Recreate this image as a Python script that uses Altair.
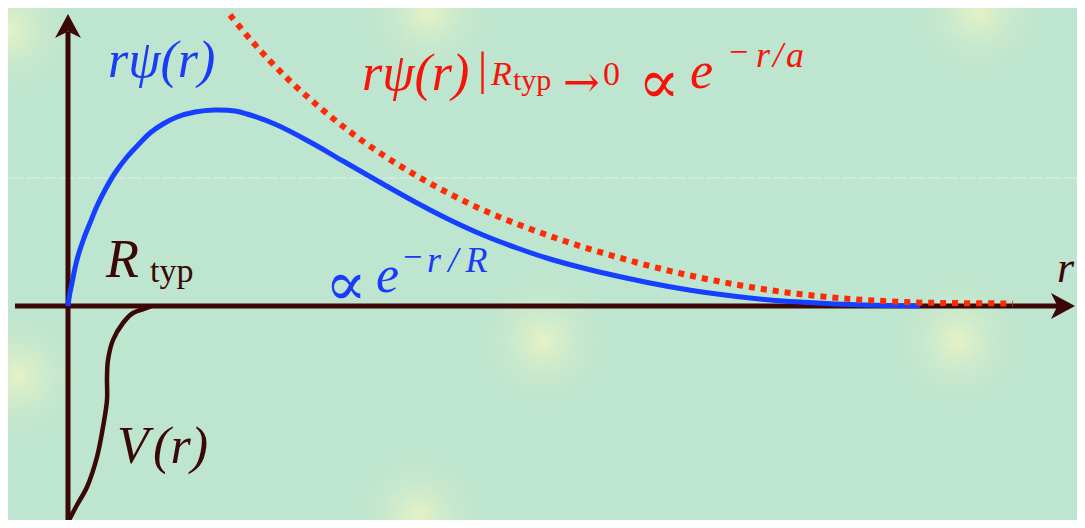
import altair as alt
import pandas as pd

# ---- data (r in units of 100 px, values in units of 100 px) ----
psi_r = [0, 0.015, 0.04, 0.07, 0.10, 0.16, 0.22, 0.29, 0.37, 0.47, 0.59, 0.72, 0.82, 0.95,
         1.09, 1.27, 1.47, 1.67, 1.79, 2.09, 2.42, 2.75, 3.15, 3.49, 3.82, 4.15, 4.49, 4.82,
         5.15, 5.49, 5.82, 6.15, 6.49, 6.82, 7.15, 7.49, 7.82, 8.22, 8.52]
psi_v = [0, 0.11, 0.23, 0.38, 0.50, 0.68, 0.83, 1.00, 1.16, 1.33, 1.49, 1.63, 1.73, 1.82,
         1.89, 1.94, 1.96, 1.95, 1.92, 1.81, 1.64, 1.45, 1.22, 1.03, 0.86, 0.71, 0.58, 0.47,
         0.38, 0.30, 0.23, 0.17, 0.12, 0.08, 0.05, 0.03, 0.015, 0.005, 0.0]

exp_r = [1.62, 1.82, 2.02, 2.22, 2.42, 2.62, 2.85, 3.15, 3.49, 3.82, 4.15, 4.49, 4.82, 5.15,
         5.49, 5.82, 6.15, 6.49, 6.82, 7.15, 7.49, 7.82, 8.15, 8.49, 8.82, 9.45]
exp_v = [2.91, 2.67, 2.45, 2.25, 2.07, 1.90, 1.72, 1.51, 1.30, 1.12, 0.96, 0.82, 0.70, 0.59,
         0.49, 0.40, 0.32, 0.25, 0.19, 0.14, 0.10, 0.07, 0.05, 0.035, 0.03, 0.025]

pot_r = [0, 0.09, 0.19, 0.29, 0.35, 0.39, 0.39, 0.40, 0.45, 0.55, 0.65, 0.79, 0.84]
pot_v = [-2.16, -1.99, -1.81, -1.51, -1.21, -0.94, -0.71, -0.54, -0.34, -0.17, -0.07, -0.02, 0]

# axes of the diagram
axis_x = [-0.53, 0.0]
axis_x2 = [9.90, 0.0]
axis_y = [0.0, -2.20]
axis_y2 = [0.0, 2.74]
arrow_x = [10.07, 0.0]
arrow_y = [0.0, 2.92]
arrow_angle = [90, 0]

BLUE = "#1a3cf7"
RED = "#f6140a"
DARK = "#3a0806"

# italic labels: text, x, baseline y, font size, colour
lab_text = ["rψ(r)", "rψ(r)", "R", "e", "−", "r\u200a/\u200aa", "R", "e", "−",
            "r\u2009/\u2009R", "V\u200a(r)", "r"]
lab_x = [0.40, 2.94, 4.23, 6.22, 6.59, 6.88, 0.38, 3.08, 3.33, 3.59, 0.49, 9.89]
lab_y = [2.29, 2.16, 2.21, 2.18, 2.43, 2.39, 0.29, 0.14, 0.38, 0.34, -1.57, 0.24]
lab_size = [52, 52, 34, 52, 34, 36, 54, 52, 34, 36, 52, 44]
lab_color = [BLUE, RED, RED, RED, RED, RED, DARK, BLUE, BLUE, BLUE, DARK, DARK]

# upright labels
up_text = ["|", "typ", "0", "typ"]
up_x = [4.10, 4.45, 5.35, 0.82]
up_y = [2.22, 2.16, 2.21, 0.24]
up_size = [46, 30, 34, 34]
up_color = [RED, RED, RED, DARK]

# math symbols
sym_text = ["→", "∝", "∝"]
sym_x = [4.95, 5.70, 2.57]
sym_y = [2.09, 2.03, 0.01]
sym_size = [44, 62, 62]
sym_color = [RED, RED, BLUE]

glow_x = [-0.6, 3.6, 9.1, 4.75, 8.9, -0.5, 3.5]
glow_y = [2.75, 2.95, 2.95, -0.35, -0.35, -0.7, -2.1]
seam_y = [1.28]

XS = alt.Scale(domain=[-0.60, 10.09], nice=False, zero=False)
YS = alt.Scale(domain=[-2.14, 2.98], nice=False, zero=False)
BG = "#bee5cf"
FONT = "Liberation Serif, DejaVu Serif"


def X(f="x"):
    return alt.X(f, type="quantitative", scale=XS, axis=None)


def Y(f="y"):
    return alt.Y(f, type="quantitative", scale=YS, axis=None)


glow_df = pd.DataFrame({"x": glow_x, "y": glow_y})
glows = alt.Chart(glow_df).mark_point(
    filled=True, shape="circle", size=22000, opacity=1, clip=True,
    fill=alt.RadialGradient(gradient="radial", stops=[
        alt.GradientStop(offset=0, color="rgba(236,244,196,0.85)"),
        alt.GradientStop(offset=1, color="rgba(190,229,207,0)")]),
    strokeWidth=0,
).encode(x=X(), y=Y())

seam = alt.Chart(pd.DataFrame({"y": seam_y})).mark_rule(
    color="white", opacity=0.35, strokeWidth=1.5, strokeDash=[14, 3]).encode(y=Y())

axes_df = pd.DataFrame({"x": axis_x, "x2": axis_x2, "y": axis_y, "y2": axis_y2})
axes = alt.Chart(axes_df).mark_rule(color=DARK, strokeWidth=5, strokeCap="butt").encode(
    x=X(), x2="x2", y=Y(), y2="y2")

arr_df = pd.DataFrame({"x": arrow_x, "y": arrow_y, "a": arrow_angle})
arrows = alt.Chart(arr_df).mark_point(
    shape="M0,0 L-1,1.85 L0,1.35 L1,1.85 Z", filled=True, size=676, opacity=1,
    color=DARK, strokeWidth=0).encode(
    x=X(), y=Y(), angle=alt.Angle("a:Q", scale=None))

pot_df = pd.DataFrame({"x": pot_r, "y": pot_v, "o": range(len(pot_r))})
pot = alt.Chart(pot_df).mark_line(color=DARK, strokeWidth=4.5, interpolate="catmull-rom").encode(
    x=X(), y=Y(), order="o:Q")

psi_df = pd.DataFrame({"x": psi_r, "y": psi_v, "o": range(len(psi_r))})
psi = alt.Chart(psi_df).mark_line(color="#1640ff", strokeWidth=5, interpolate="catmull-rom").encode(
    x=X(), y=Y(), order="o:Q")

exp_df = pd.DataFrame({"x": exp_r, "y": exp_v, "o": range(len(exp_r))})
expc = alt.Chart(exp_df).mark_line(color="#ff2a06", strokeWidth=6, strokeDash=[6, 6],
                                   strokeCap="butt", interpolate="catmull-rom").encode(
    x=X(), y=Y(), order="o:Q")


def text_layer(texts, xs, ys, sizes, colors, **kw):
    df = pd.DataFrame({"t": texts, "x": xs, "y": ys, "s": sizes, "c": colors})
    return alt.Chart(df).mark_text(align="left", baseline="alphabetic", **kw).encode(
        x=X(), y=Y(), text="t:N", size=alt.Size("s:Q", scale=None),
        color=alt.Color("c:N", scale=None))


labels = text_layer(lab_text, lab_x, lab_y, lab_size, lab_color, font=FONT, fontStyle="italic")
uplabels = text_layer(up_text, up_x, up_y, up_size, up_color, font=FONT)
symbols = text_layer(sym_text, sym_x, sym_y, sym_size, sym_color,
                     font="DejaVu Sans ExtraLight, DejaVu Serif")

chart = alt.layer(glows, seam, axes, pot, psi, expc, arrows, labels, uplabels, symbols).properties(
    width=1069, height=512, padding=0, background=BG,
    autosize=alt.AutoSizeParams(type="none"),
).configure_view(stroke=None)

chart.save("out.html", embed_options={"renderer": "svg", "actions": False})
